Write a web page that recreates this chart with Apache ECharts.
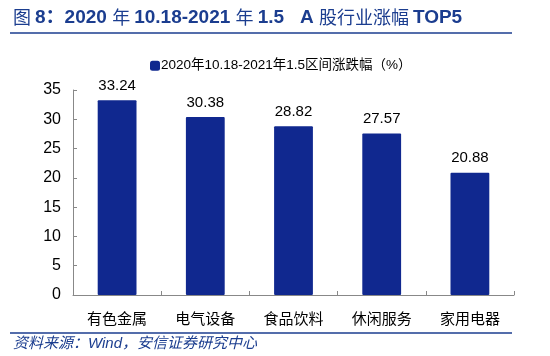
<!DOCTYPE html>
<html><head><meta charset="utf-8">
<script src="https://cdn.jsdelivr.net/npm/echarts@6/dist/echarts.min.js"></script>
<style>html,body{margin:0;padding:0;background:#fff}#c{width:550px;height:356px}</style>
</head><body><div id="c"></div>
<script>
const categories = ['有色金属','电气设备','食品饮料','休闲服务','家用电器'];
const values = [33.24, 30.38, 28.82, 27.57, 20.88];
const seriesName = '2020年10.18-2021年1.5区间涨跌幅（%）';
const titleParts = [['n','图 '],['b','8：2020 '],['n','年 '],['b','10.18-2021 '],['n','年 '],['b','1.5   A '],['n','股行业涨幅 '],['b','TOP5']];
const sourceText = '资料来源：Wind，安信证券研究中心';
const FONT = "'Liberation Sans', Arial, 'Noto Sans CJK SC', sans-serif";
const BLUE = '#1b3d8f';
const chart = echarts.init(document.getElementById('c'), null, {renderer:'canvas'});
chart.setOption({
  animation:false,
  backgroundColor:'#fff',
  textStyle:{fontFamily:FONT},
  grid:{left:73,right:36,top:90,bottom:61,containLabel:false},
  legend:{left:145,top:54,itemWidth:10,itemHeight:10,itemGap:4,
    icon:'roundRect',
    textStyle:{fontSize:13.5,color:'#000',fontFamily:FONT,padding:[0,0,0,-4]},
    data:[seriesName]},
  xAxis:{type:'category',data:categories,
    axisLine:{lineStyle:{color:'#888',width:1}},
    axisTick:{show:true,inside:true,length:4,alignWithLabel:false,lineStyle:{color:'#888'}},
    axisLabel:{fontSize:15,color:'#000',margin:17,fontFamily:FONT}},
  yAxis:{type:'value',min:0,max:35,interval:5,
    axisLine:{show:true,lineStyle:{color:'#888',width:1}},
    axisTick:{show:true,inside:true,length:4,lineStyle:{color:'#888'}},
    splitLine:{show:false},
    axisLabel:{fontSize:16,color:'#000',margin:12,fontFamily:FONT}},
  series:[{name:seriesName,type:'bar',data:values,barWidth:'44%',
    itemStyle:{color:'#10288f',borderRadius:1},
    label:{show:true,position:'top',distance:7,fontSize:15,color:'#000',fontFamily:FONT}}],
  graphic:[
    {type:'text',left:13,top:8,style:{
      text:titleParts.map(p=>'{'+p[0]+'|'+p[1]+'}').join(''),
      rich:{
        b:{font:"bold 19px 'Liberation Sans', Arial, 'Noto Sans CJK SC', sans-serif",fill:BLUE},
        n:{font:"18px 'Noto Sans CJK SC', sans-serif",fill:BLUE}
      }}},
    {type:'line',shape:{x1:10,y1:33,x2:512,y2:33},style:{stroke:BLUE,lineWidth:1.5}},
    {type:'line',shape:{x1:10,y1:333,x2:512,y2:333},style:{stroke:BLUE,lineWidth:1.5}},
    {type:'text',left:13,top:336,style:{text:sourceText,font:"italic 15px 'Liberation Sans', Arial, 'Noto Sans CJK SC', sans-serif",fill:BLUE}}
  ]
});
</script></body></html>
